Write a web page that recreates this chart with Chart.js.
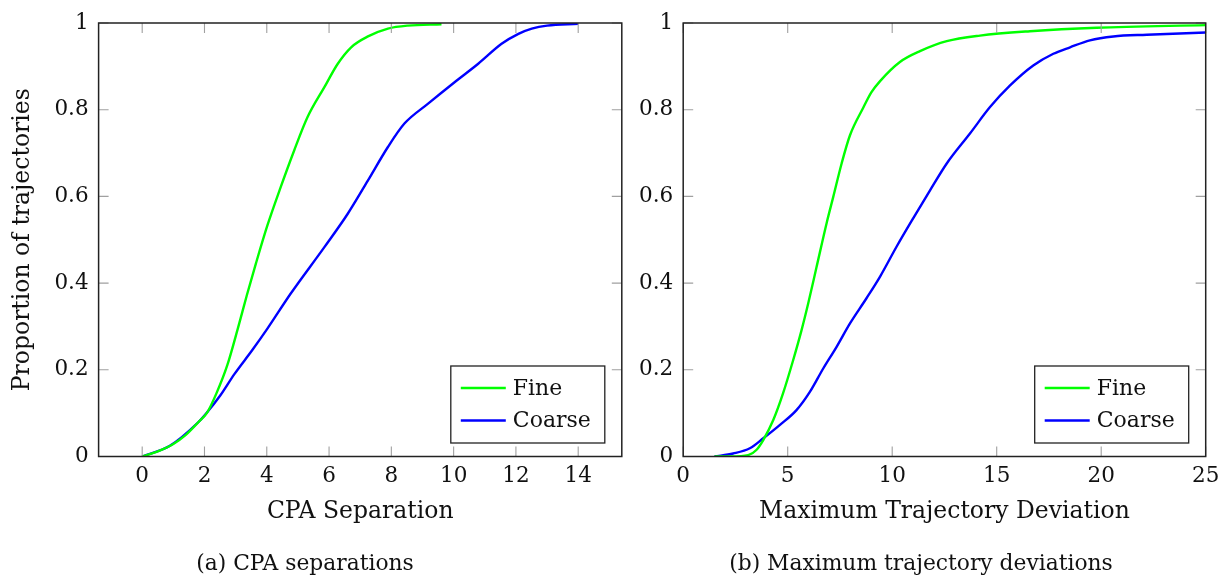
<!DOCTYPE html>
<html>
<head>
<meta charset="utf-8">
<script src="https://cdn.jsdelivr.net/npm/chart.js@4.4.1/dist/chart.umd.min.js"></script>
<style>
    body { margin: 0; background: #fff; width: 1220px; height: 576px; position: relative; overflow: hidden; font-family: "DejaVu Serif", serif; }
    #graficoCpa { position: absolute; left: 0; top: 0; }
    #graficoDesvio { position: absolute; left: 640px; top: 0; }
    .legenda-fig { position: absolute; top: 550px; font-size: 21.8px; line-height: 26px; color: #111; transform: translateX(-50%); white-space: nowrap; }
</style>
</head>
<body>
<canvas id="graficoCpa" width="640" height="576"></canvas>
<canvas id="graficoDesvio" width="580" height="576"></canvas>
<div class="legenda-fig" style="left:305px">(a) CPA separations</div>
<div class="legenda-fig" style="left:921px">(b) Maximum trajectory deviations</div>

<script>
// Dados (a) CPA
const cpaFinoX = [0, 0.5, 1.0, 1.4, 1.8, 2.09, 2.38, 2.73, 3.07, 3.36, 3.65, 4.02, 4.45, 4.88, 5.31, 5.85, 6.28, 6.71, 7.25, 7.89, 8.53, 9.61];
const cpaFinoY = [0, 0.012, 0.029, 0.05, 0.079, 0.102, 0.145, 0.21, 0.295, 0.372, 0.445, 0.533, 0.622, 0.706, 0.783, 0.852, 0.906, 0.944, 0.969, 0.987, 0.994, 0.997];
const cpaGrossoX = [0, 0.89, 1.8, 2.04, 2.5, 2.96, 3.53, 4.02, 4.77, 5.85, 6.6, 7.25, 7.89, 8.42, 9.18, 10.04, 10.79, 11.54, 12.08, 12.51, 13.0, 14.0];
const cpaGrossoY = [0, 0.025, 0.079, 0.098, 0.14, 0.19, 0.245, 0.295, 0.376, 0.483, 0.56, 0.637, 0.714, 0.768, 0.814, 0.864, 0.906, 0.952, 0.975, 0.987, 0.994, 0.998];

// Dados (b) desvio maximo
const desvFinoX = [1.5, 2.3, 3.11, 3.5, 3.83, 4.31, 4.78, 5.26, 5.66, 5.98, 6.38, 6.87, 7.18, 7.58, 7.98, 8.62, 9.0, 9.42, 10.37, 11.33, 12.61, 14.2, 16.59, 19.78, 25];
const desvFinoY = [0, 0, 0.003, 0.015, 0.038, 0.084, 0.146, 0.222, 0.291, 0.353, 0.437, 0.54, 0.599, 0.676, 0.741, 0.805, 0.84, 0.866, 0.91, 0.935, 0.958, 0.971, 0.981, 0.989, 0.995];
const desvGrossoX = [1.5, 2.39, 3.19, 3.83, 4.63, 5.42, 6.06, 6.7, 7.34, 7.98, 8.77, 9.42, 10.22, 11.01, 11.81, 12.61, 13.72, 14.68, 15.64, 16.75, 17.71, 18.51, 19.46, 20.58, 22.18, 25];
const desvGrossoY = [0, 0.007, 0.019, 0.042, 0.073, 0.107, 0.149, 0.203, 0.253, 0.307, 0.365, 0.415, 0.485, 0.55, 0.614, 0.676, 0.745, 0.806, 0.856, 0.902, 0.929, 0.944, 0.96, 0.969, 0.973, 0.978];

// Ticks e rotulos
const ticksXCpa = [0, 2, 4, 6, 8, 10, 12, 14];
const ticksXDesvio = [0, 5, 10, 15, 20, 25];
const ticksY = [0, 0.2, 0.4, 0.6, 0.8, 1];
const rotulosY = ['0', '0.2', '0.4', '0.6', '0.8', '1'];
const nomesSeries = ['Fine', 'Coarse'];
const coresSeries = ['#00ff00', '#0000ff'];

const FONTE = '"DejaVu Serif", serif';
const TAM_TICK = 10;

// junta x e y em pontos
function montarPontos(xs, ys) {
    let pontos = [];
    for (let i = 0; i < xs.length; i++) {
        pontos.push({ x: xs[i], y: ys[i] });
    }
    return pontos;
}

// Plugin que desenha a moldura, os ticks pra dentro e a legenda no canto
const molduraPlugin = {
    id: 'moldura',
    afterDatasetsDraw(chart) {
        const ctx = chart.ctx;
        const a = chart.chartArea;
        const x = chart.scales.x;
        const y = chart.scales.y;
        ctx.save();

        // ticks cinzas pra dentro nos 4 lados
        ctx.strokeStyle = '#a0a0a0';
        ctx.lineWidth = 1.1;
        ctx.beginPath();
        x.ticks.forEach(t => {
            const px = x.getPixelForValue(t.value);
            ctx.moveTo(px, a.bottom); ctx.lineTo(px, a.bottom - TAM_TICK);
            ctx.moveTo(px, a.top); ctx.lineTo(px, a.top + TAM_TICK);
        });
        y.ticks.forEach(t => {
            const py = y.getPixelForValue(t.value);
            ctx.moveTo(a.left, py); ctx.lineTo(a.left + TAM_TICK, py);
            ctx.moveTo(a.right, py); ctx.lineTo(a.right - TAM_TICK, py);
        });
        ctx.stroke();

        // moldura
        ctx.strokeStyle = '#222';
        ctx.lineWidth = 1.5;
        ctx.strokeRect(a.left, a.top, a.right - a.left, a.bottom - a.top);

        // legenda no canto de baixo a direita
        const larg = 154, alt = 77;
        const bx = a.right - 17 - larg;
        const by = a.bottom - 13.5 - alt;
        ctx.fillStyle = '#fff';
        ctx.fillRect(bx, by, larg, alt);
        ctx.strokeStyle = '#222';
        ctx.lineWidth = 1.3;
        ctx.strokeRect(bx, by, larg, alt);
        ctx.font = '22px ' + FONTE;
        ctx.textBaseline = 'middle';
        chart.data.datasets.forEach((ds, i) => {
            const ly = by + 22 + i * 32.5;
            ctx.strokeStyle = ds.borderColor;
            ctx.lineWidth = 2.4;
            ctx.beginPath();
            ctx.moveTo(bx + 10, ly); ctx.lineTo(bx + 55, ly);
            ctx.stroke();
            ctx.fillStyle = '#111';
            ctx.fillText(ds.label, bx + 62, ly + 1);
        });
        ctx.restore();
    }
};

function criarGrafico(idCanvas, series, ticksX, xMin, xMax, tituloX, tituloY, largEixoY, padDireita) {
    const datasets = [];
    for (let i = 0; i < series.length; i++) {
        datasets.push({
            label: nomesSeries[i],
            data: series[i],
            borderColor: coresSeries[i],
            borderWidth: 2.4,
            pointRadius: 0,
            fill: false,
            cubicInterpolationMode: 'monotone'
        });
    }
    return new Chart(document.getElementById(idCanvas), {
        type: 'line',
        data: { datasets: datasets },
        plugins: [molduraPlugin],
        options: {
            responsive: false,
            animation: false,
            devicePixelRatio: 1,
            layout: { padding: { top: 23, right: padDireita, bottom: 50.5, left: 0 } },
            plugins: { legend: { display: false }, tooltip: { enabled: false } },
            scales: {
                x: {
                    type: 'linear',
                    min: xMin,
                    max: xMax,
                    grid: { display: false, drawTicks: false },
                    border: { display: false },
                    afterBuildTicks: s => { s.ticks = ticksX.map(v => ({ value: v })); },
                    // altura fixa e sem folga extra pros rotulos das pontas
                    afterFit: s => { s.height = 69; s.paddingLeft = 0; s.paddingRight = 0; },
                    ticks: {
                        autoSkip: false, maxRotation: 0, padding: 7,
                        color: '#111', font: { family: FONTE, size: 21.5 },
                        callback: v => String(v)
                    },
                    title: {
                        display: true, text: tituloX, color: '#111',
                        padding: { top: 0, bottom: 0 },
                        font: { family: FONTE, size: 23.5, lineHeight: 1.2 }
                    }
                },
                y: {
                    type: 'linear',
                    min: 0,
                    max: 1,
                    grid: { display: false, drawTicks: false },
                    border: { display: false },
                    afterBuildTicks: s => { s.ticks = ticksY.map(v => ({ value: v })); },
                    afterFit: s => { s.width = largEixoY; s.paddingTop = 0; s.paddingBottom = 0; },
                    ticks: {
                        padding: 10, color: '#111', font: { family: FONTE, size: 21.5 },
                        callback: (v, i) => rotulosY[i]
                    },
                    title: {
                        display: tituloY !== '', text: tituloY, color: '#111',
                        padding: { top: 9, bottom: 0 },
                        font: { family: FONTE, size: 23.5, lineHeight: 1.2 }
                    }
                }
            }
        }
    });
}

criarGrafico('graficoCpa',
    [montarPontos(cpaFinoX, cpaFinoY), montarPontos(cpaGrossoX, cpaGrossoY)],
    ticksXCpa, -1.4, 15.4, 'CPA Separation', 'Proportion of trajectories', 98.6, 18.2);

criarGrafico('graficoDesvio',
    [montarPontos(desvFinoX, desvFinoY), montarPontos(desvGrossoX, desvGrossoY)],
    ticksXDesvio, 0, 25, 'Maximum Trajectory Deviation', '', 43.2, 14.3);
</script>
</body>
</html>
